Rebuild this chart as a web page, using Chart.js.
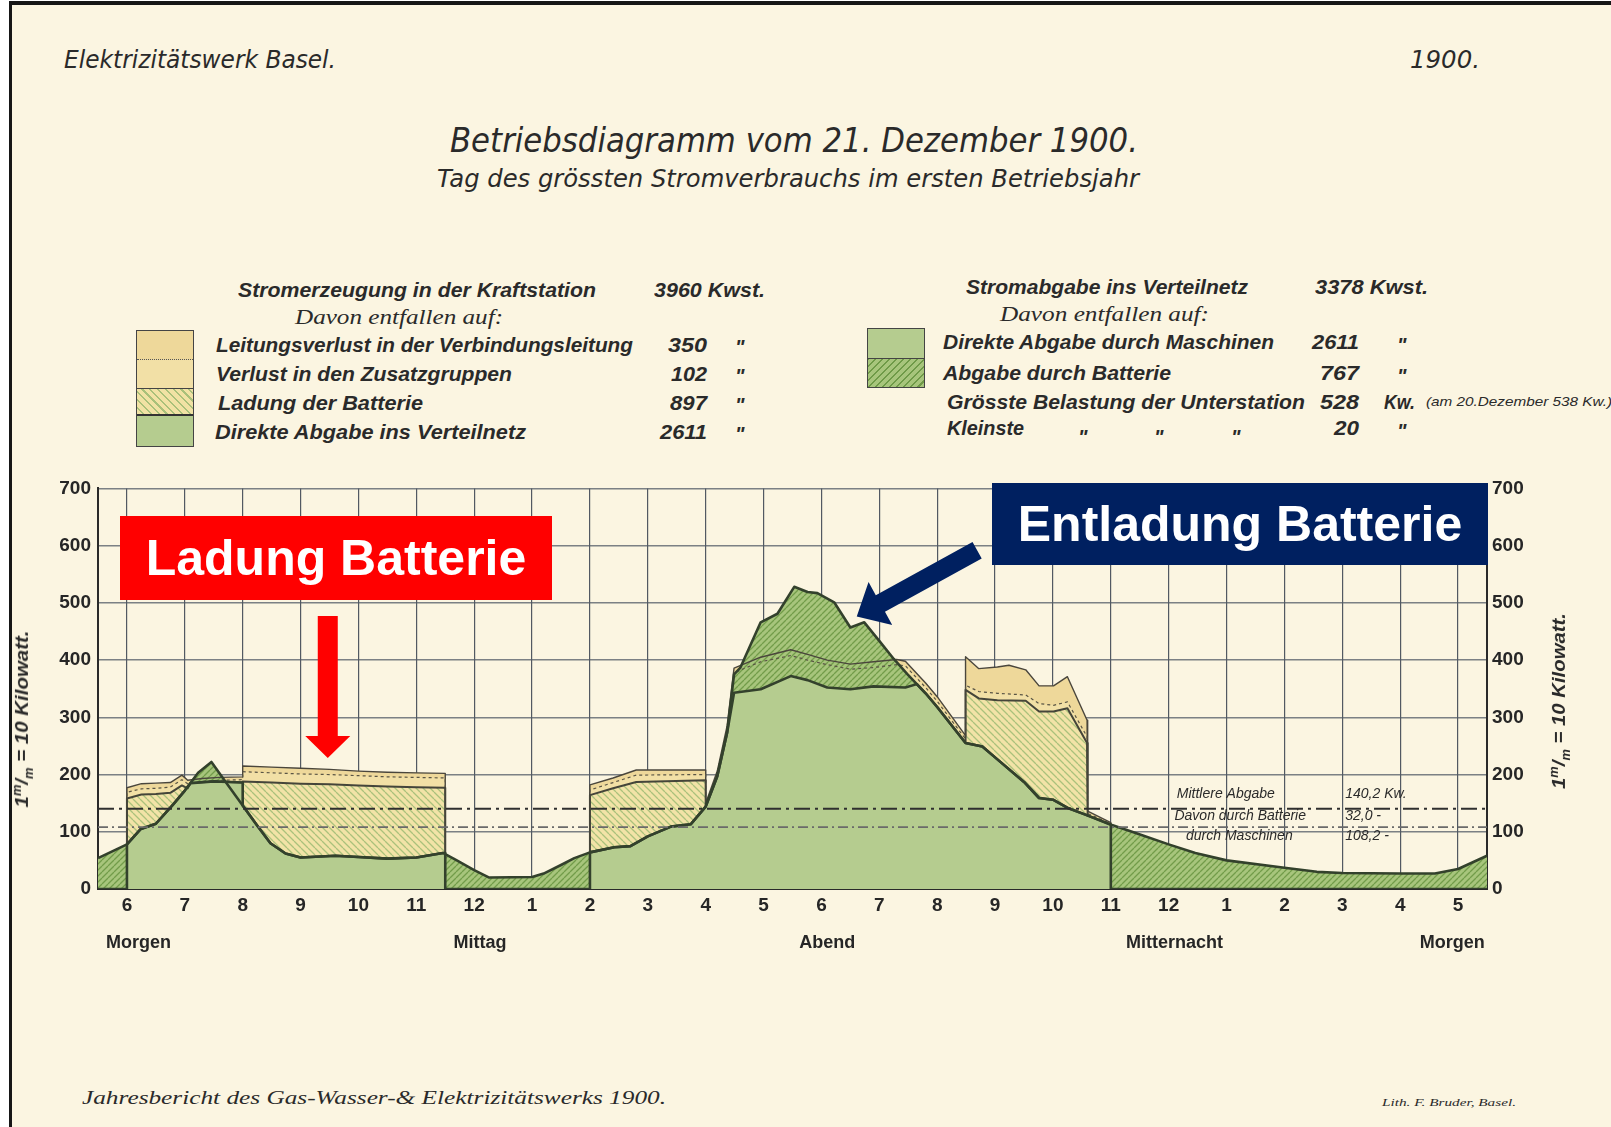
<!DOCTYPE html>
<html lang="de">
<head>
<meta charset="utf-8">
<title>Betriebsdiagramm vom 21. Dezember 1900</title>
<script src="https://cdn.jsdelivr.net/npm/chart.js@4.4.1/dist/chart.umd.min.js"></script>
<style>
  html, body { margin: 0; padding: 0; }
  body { width: 1611px; height: 1127px; position: relative; overflow: hidden; background: #fff;
         font-family: "Liberation Sans", Arial, sans-serif; color: #2a2a2a; }
  #paper { position: absolute; left: 9px; top: 1px; right: 0; bottom: 0; background: #fbf5e1;
           border-left: 3px solid #161616; border-top: 4px solid #161616; }
  .t { position: absolute; white-space: nowrap; line-height: 1; transform-origin: 0 0; }
  .head { font-family: "DejaVu Sans", sans-serif; font-style: oblique; }
  .leg { font-weight: bold; font-style: italic; font-size: 20px; }
  .serif { font-family: "Liberation Serif", "DejaVu Serif", serif; font-style: italic; }
  .ytitle { position: absolute; white-space: nowrap; line-height: 1; font-weight: bold; font-style: italic; font-size: 19px; }
  .ytitle sup, .ytitle sub { font-size: 12px; }
  #chartBox { position: absolute; left: 0; top: 470px; width: 1611px; height: 500px; }
  .legbox { position: absolute; box-sizing: border-box; border: 1.5px solid #444; display: flex; flex-direction: column; }
  .legbox div { box-sizing: border-box; }
  .ann { position: absolute; display: flex; align-items: center; justify-content: center;
         color: #fff; font-weight: bold; font-size: 50px; line-height: 1; white-space: nowrap; }
</style>
</head>
<body>
<div id="paper"></div>

<!-- Kopf -->
<div class="t head" style="font-size:25px" data-x="64" data-c="59" data-w="272">Elektrizitätswerk Basel.</div>
<div class="t head" style="font-size:25px" data-x="1410" data-c="59" data-w="70">1900.</div>
<div class="t head" style="font-size:34px" data-x="450" data-c="140" data-w="688">Betriebsdiagramm vom 21. Dezember 1900.</div>
<div class="t head" style="font-size:24px" data-x="437" data-c="179" data-w="702">Tag des grössten Stromverbrauchs im ersten Betriebsjahr</div>

<!-- Legende links -->
<div class="t leg" data-x="238" data-c="290" data-w="358">Stromerzeugung in der Kraftstation</div>
<div class="t leg" data-x="654" data-c="290" data-w="111">3960 Kwst.</div>
<div class="t serif" style="font-size:21px" data-x="295" data-c="317" data-w="208">Davon entfallen auf:</div>
<div class="t leg" data-x="216" data-c="345" data-w="417">Leitungsverlust in der Verbindungsleitung</div>
<div class="t leg" data-r="707" data-c="345" data-w="39">350</div>
<div class="t leg" data-x="735" data-c="347">"</div>
<div class="t leg" data-x="216" data-c="374" data-w="296">Verlust in den Zusatzgruppen</div>
<div class="t leg" data-r="707" data-c="374" data-w="36">102</div>
<div class="t leg" data-x="735" data-c="376">"</div>
<div class="t leg" data-x="218" data-c="403" data-w="205">Ladung der Batterie</div>
<div class="t leg" data-r="707" data-c="403" data-w="37">897</div>
<div class="t leg" data-x="735" data-c="405">"</div>
<div class="t leg" data-x="215" data-c="432" data-w="311">Direkte Abgabe ins Verteilnetz</div>
<div class="t leg" data-r="707" data-c="432" data-w="47">2611</div>
<div class="t leg" data-x="735" data-c="434">"</div>

<div class="legbox" style="left:136px; top:330px; width:58px; height:117px;">
  <div style="height:29px; background:#eed89a; border-bottom:1.5px dotted #555;"></div>
  <div style="height:29px; background:#f2e0a6; border-bottom:1.5px solid #444;"></div>
  <div style="height:27px; background:repeating-linear-gradient(45deg, #f1e2a4 0 4px, #a9c07a 4px 5.5px); border-bottom:2.5px solid #333;"></div>
  <div style="flex:1; background:#b5cc8f;"></div>
</div>

<!-- Legende rechts -->
<div class="t leg" data-x="966" data-c="287" data-w="282">Stromabgabe ins Verteilnetz</div>
<div class="t leg" data-x="1315" data-c="287" data-w="113">3378 Kwst.</div>
<div class="t serif" style="font-size:21px" data-x="1000" data-c="314" data-w="209">Davon entfallen auf:</div>
<div class="t leg" data-x="943" data-c="342" data-w="331">Direkte Abgabe durch Maschinen</div>
<div class="t leg" data-r="1359" data-c="342" data-w="47">2611</div>
<div class="t leg" data-x="1397" data-c="345">"</div>
<div class="t leg" data-x="943" data-c="373" data-w="228">Abgabe durch Batterie</div>
<div class="t leg" data-r="1359" data-c="373" data-w="39">767</div>
<div class="t leg" data-x="1397" data-c="376">"</div>
<div class="t leg" data-x="947" data-c="402" data-w="358">Grösste Belastung der Unterstation</div>
<div class="t leg" data-r="1359" data-c="402" data-w="39">528</div>
<div class="t leg" data-x="1384" data-c="402" data-w="31">Kw.</div>
<div class="t leg" style="font-size:13px; font-weight:normal" data-x="1426" data-c="401" data-w="186">(am 20.Dezember 538 Kw.)</div>
<div class="t leg" data-x="947" data-c="428" data-w="77">Kleinste</div>
<div class="t leg" data-x="1078" data-c="437">"</div>
<div class="t leg" data-x="1154" data-c="437">"</div>
<div class="t leg" data-x="1231" data-c="437">"</div>
<div class="t leg" data-r="1359" data-c="428" data-w="25">20</div>
<div class="t leg" data-x="1397" data-c="431">"</div>

<div class="legbox" style="left:867px; top:328px; width:58px; height:60px;">
  <div style="height:30px; background:#b5cc8f; border-bottom:1.5px solid #444;"></div>
  <div style="flex:1; background:repeating-linear-gradient(-45deg, #a7c57c 0 3.5px, #6f9a48 3.5px 5px);"></div>
</div>

<!-- Diagramm -->
<div id="chartBox"><canvas id="diagramm" width="1611" height="500"></canvas></div>

<div class="ytitle" data-cx="23" data-cy="719" data-len="177">1<sup>m</sup>/<sub>m</sub> = 10 Kilowatt.</div>
<div class="ytitle" data-cx="1560" data-cy="701" data-len="176">1<sup>m</sup>/<sub>m</sub> = 10 Kilowatt.</div>

<div class="ann" style="left:120px; top:516px; width:432px; height:84px; background:#ff0000;">Ladung Batterie</div>
<div class="ann" style="left:992px; top:483px; width:496px; height:82px; background:#002060;">Entladung Batterie</div>

<!-- Fuss -->
<div class="t serif" style="font-size:19px" data-x="82" data-c="1097" data-w="584">Jahresbericht des Gas-Wasser-&amp; Elektrizitätswerks 1900.</div>
<div class="t serif" style="font-size:10px" data-x="1382" data-c="1103" data-w="134">Lith. F. Bruder, Basel.</div>

<script>
// Stunden ab 5.30 Uhr morgens (5.5) bis 5.30 Uhr des Folgetages (29.5), Werte in kW
const hourTicks  = [6, 7, 8, 9, 10, 11, 12, 13, 14, 15, 16, 17, 18, 19, 20, 21, 22, 23, 24, 25, 26, 27, 28, 29];
const hourLabels = ['6', '7', '8', '9', '10', '11', '12', '1', '2', '3', '4', '5', '6', '7', '8', '9', '10', '11', '12', '1', '2', '3', '4', '5'];
const dayHours = [6.2, 12.1, 18.1, 24.1, 28.9];
const dayNames = ['Morgen', 'Mittag', 'Abend', 'Mitternacht', 'Morgen'];
const kwTicksMax = 700;

// Gesamtbelastung des Verteilnetzes (Maschinen + Batterie)
const loadKw = [[5.5,54],[6.0,78],[6.24,105],[6.5,114],[6.8,148],[7.0,172],[7.23,203],[7.46,222],[7.7,188],[8.0,146],
  [8.25,111],[8.48,80],[8.74,62],[9.0,55],[9.6,58],[10.0,56],[10.5,53],[11.0,55],[11.46,63],[11.7,50],[12.0,33],
  [12.26,20],[13.0,21],[13.2,27],[13.5,42],[13.73,54],[14.0,64],[14.42,73],[14.7,75],[15.0,92],[15.4,109],[15.74,113],
  [16.0,144],[16.2,197],[16.37,273],[16.49,375],[16.6,387],[16.95,466],[17.24,481],[17.53,528],[17.76,519],[17.93,517],
  [18.22,501],[18.5,457],[18.74,466],[19.02,431],[19.25,402],[19.48,376],[19.8,342],[20.0,318],[20.49,255],[20.78,249],
  [21.0,230],[21.5,187],[21.76,159],[22.0,156],[22.27,141],[22.56,130],[23.02,112],[23.43,98],[24.0,78],[24.46,63],
  [25.0,50],[26.0,37],[26.56,30],[27.0,28],[28.0,27],[28.6,27],[29.0,35],[29.5,58]];

// Direkte Abgabe durch Maschinen
const directKw = [[5.5,0],[6.0,0],[6.0,78],[6.24,105],[6.5,114],[6.8,148],[7.0,172],[7.1,185],[7.5,188],[8.0,186],
  [8.0,146],[8.25,111],[8.48,80],[8.74,62],[9.0,55],[9.6,58],[10.0,56],[10.5,53],[11.0,55],[11.46,63],[11.5,63],[11.5,0],
  [14.0,0],[14.0,64],[14.42,73],[14.7,75],[15.0,92],[15.4,109],[15.74,113],[16.0,144],[16.2,197],[16.37,273],[16.49,343],
  [16.95,349],[17.47,372],[17.76,365],[18.1,352],[18.5,349],[18.9,354],[19.45,352],[19.65,358],[19.8,342],[20.0,318],
  [20.49,255],[20.78,249],[21.0,230],[21.5,187],[21.76,159],[22.0,156],[22.27,141],[22.56,130],[23.0,112],[23.0,0],[29.5,0]];

// Oberkante Ladung der Batterie
const chargeKw = [[6.0,78],[6.0,158],[6.25,165],[6.5,166],[6.75,168],[6.95,181],[7.05,176],[7.1,185],[7.5,188],[8.0,186],
  [8.0,188],[8.5,186],[9.0,184],[9.5,183],[10.0,181],[10.5,179],[11.0,178],[11.5,177],[11.5,63],[12.5,null],
  [14.0,64],[14.0,164],[14.4,176],[14.8,187],[16.0,190],[16.0,144],[18.0,null],
  [20.49,255],[20.49,348],[20.72,333],[21.04,330],[21.53,329],[21.76,310],[22.01,310],[22.25,316],[22.59,255],[22.6,128]];

// Oberkante Verlust in den Zusatzgruppen
const zusatzKw = [[6.0,78],[6.0,169],[6.25,175],[6.5,176],[6.75,178],[6.95,191],[7.05,184],[7.3,188],[7.6,190],[8.0,191],
  [8.0,205],[8.5,203],[9.0,201],[9.5,200],[10.0,198],[10.5,196],[11.0,195],[11.5,194],[11.5,63],[12.5,null],
  [14.0,64],[14.0,173],[14.4,186],[14.8,199],[16.0,200],[16.0,148],[16.2,202],[16.37,279],[16.49,378],[16.95,397],
  [17.47,408],[17.76,400],[18.1,392],[18.5,384],[18.9,387],[19.3,392],[19.45,390],[19.8,352],[20.0,328],[20.49,262],
  [20.49,356],[20.72,345],[21.04,342],[21.53,339],[21.76,324],[22.01,321],[22.25,327],[22.59,266],[22.6,132],[23.0,114],[23.0,112]];

// Oberkante Leitungsverlust = gesamte Stromerzeugung
const genKw = [[6.0,78],[6.0,177],[6.25,184],[6.5,185],[6.75,186],[6.95,199],[7.05,190],[7.3,193],[7.6,195],[8.0,196],
  [8.0,215],[8.5,213],[9.0,211],[9.5,209],[10.0,206],[10.5,204],[11.0,203],[11.5,202],[11.5,63],[12.5,null],
  [14.0,64],[14.0,182],[14.4,194],[14.8,208],[16.0,208],[16.0,150],[16.2,206],[16.37,285],[16.49,386],[16.95,405],
  [17.47,418],[17.76,410],[18.1,400],[18.5,393],[18.9,397],[19.3,401],[19.45,398],[19.8,360],[20.0,336],[20.49,268],
  [20.49,406],[20.72,385],[21.04,388],[21.24,391],[21.53,383],[21.76,355],[22.01,355],[22.25,371],[22.59,295],[22.6,136],
  [23.0,116],[23.0,112]];

// Mittelwerte
const meanKw = [140.2, 108.2];
const meanNames  = ['Mittlere Abgabe', 'Davon durch Batterie', 'durch Maschinen'];
const meanValues = ['140,2 Kw.', '32,0 -', '108,2 -'];

const HOUR_MIN = 5.5, HOUR_MAX = 29.5;
const toPoints = arr => arr.map(p => ({ x: p[0], y: p[1] }));

function hatch(bg, fg, slash, size, lw) {
    const c = document.createElement('canvas');
    c.width = c.height = size;
    const g = c.getContext('2d');
    g.fillStyle = bg;
    g.fillRect(0, 0, size, size);
    g.strokeStyle = fg;
    g.lineWidth = lw;
    g.beginPath();
    for (const k of [-size, 0, size]) {
        if (slash) { g.moveTo(k, size); g.lineTo(k + size, 0); }
        else { g.moveTo(k, 0); g.lineTo(k + size, size); }
    }
    g.stroke();
    return g.createPattern(c, 'repeat');
}

function drawArrow(g, x1, y1, x2, y2, shaftW, headW, headL, color) {
    const dx = x2 - x1, dy = y2 - y1, len = Math.hypot(dx, dy);
    const ux = dx / len, uy = dy / len, px = -uy, py = ux;
    const bx = x2 - ux * headL, by = y2 - uy * headL;
    g.beginPath();
    g.moveTo(x1 + px * shaftW / 2, y1 + py * shaftW / 2);
    g.lineTo(bx + px * shaftW / 2, by + py * shaftW / 2);
    g.lineTo(bx + px * headW / 2, by + py * headW / 2);
    g.lineTo(x2, y2);
    g.lineTo(bx - px * headW / 2, by - py * headW / 2);
    g.lineTo(bx - px * shaftW / 2, by - py * shaftW / 2);
    g.lineTo(x1 - px * shaftW / 2, y1 - py * shaftW / 2);
    g.closePath();
    g.fillStyle = color;
    g.fill();
}

// Beschriftung der Mittelwert-Linien
const meanText = {
    id: 'meanText',
    afterDatasetsDraw(chart) {
        const g = chart.ctx, x = chart.scales.x, y = chart.scales.y;
        const rows = [166, 128, 93];
        const lefts = [24.14, 24.1, 24.3];
        g.save();
        g.fillStyle = '#2a2a2a';
        g.font = 'italic 14px "Liberation Sans", Arial, sans-serif';
        g.textBaseline = 'middle';
        meanNames.forEach((name, i) => {
            g.fillText(name, x.getPixelForValue(lefts[i]), y.getPixelForValue(rows[i]));
            g.fillText(meanValues[i], x.getPixelForValue(27.05), y.getPixelForValue(rows[i]));
        });
        g.restore();
    }
};

// Pfeile der Hervorhebungen
const arrows = {
    id: 'arrows',
    afterDraw(chart) {
        const g = chart.ctx, x = chart.scales.x, y = chart.scales.y;
        g.save();
        drawArrow(g, x.getPixelForValue(9.47), y.getPixelForValue(477), x.getPixelForValue(9.47), y.getPixelForValue(229), 20, 45, 22, '#ff0000');
        drawArrow(g, x.getPixelForValue(20.69), y.getPixelForValue(592), x.getPixelForValue(18.61), y.getPixelForValue(476), 19, 49, 27, '#002060');
        g.restore();
    }
};

const lightGreen  = '#b5cc8f';
const greenHatch  = hatch('#a7c57c', '#729c4a', true, 6, 1.3);
const yellowHatch = hatch('#f2e3a7', '#aac17c', false, 7, 1.3);
const lineDark = '#33412c';

Chart.defaults.font.family = '"Liberation Sans", Arial, sans-serif';
Chart.defaults.color = '#262626';

const tickFont = { size: 19, weight: 'bold' };

new Chart(document.getElementById('diagramm'), {
    type: 'line',
    data: {
        datasets: [
            { label: 'Mittlere Abgabe', data: toPoints([[HOUR_MIN, meanKw[0]], [HOUR_MAX, meanKw[0]]]),
              borderColor: '#2f2f2f', borderWidth: 2.2, borderDash: [16, 5, 3, 5], fill: false },
            { label: 'durch Maschinen', data: toPoints([[HOUR_MIN, meanKw[1]], [HOUR_MAX, meanKw[1]]]),
              borderColor: '#6a6a6a', borderWidth: 1.6, borderDash: [10, 4, 2, 4], fill: false },
            { label: 'Direkte Abgabe durch Maschinen', data: toPoints(directKw),
              borderColor: lineDark, borderWidth: 2.6, backgroundColor: lightGreen, fill: 'origin' },
            { label: 'Abgabe durch Batterie', data: toPoints(loadKw),
              borderColor: lineDark, borderWidth: 2.6, backgroundColor: greenHatch, fill: 'origin' },
            { label: 'Ladung der Batterie', data: toPoints(chargeKw),
              borderColor: '#45453a', borderWidth: 2, backgroundColor: yellowHatch, fill: 'origin' },
            { label: 'Verlust in den Zusatzgruppen', data: toPoints(zusatzKw),
              borderColor: '#5a5545', borderWidth: 1.2, borderDash: [3, 3], backgroundColor: '#f2e0a6', fill: 'origin' },
            { label: 'Leitungsverlust in der Verbindungsleitung', data: toPoints(genKw),
              borderColor: '#4a463c', borderWidth: 1.4, backgroundColor: '#eed89a', fill: 'origin' }
        ]
    },
    options: {
        responsive: false,
        animation: false,
        events: [],
        layout: { padding: { top: 18, left: 0, right: 0, bottom: 0 } },
        elements: { point: { radius: 0 }, line: { tension: 0, borderJoinStyle: 'round' } },
        plugins: {
            legend: { display: false },
            tooltip: { enabled: false },
            filler: { drawTime: 'beforeDatasetsDraw' }
        },
        scales: {
            x: {
                type: 'linear', position: 'bottom', min: HOUR_MIN, max: HOUR_MAX, z: 1, weight: 0,
                afterBuildTicks: s => { s.ticks = hourTicks.map(v => ({ value: v })); },
                afterFit: s => { s.height = 36; },
                ticks: { callback: v => hourLabels[hourTicks.indexOf(v)], font: tickFont, padding: 5,
                         autoSkip: false, maxRotation: 0 },
                grid: { color: 'rgba(40,50,66,0.8)', lineWidth: 1.2, drawTicks: false },
                border: { color: '#2a2a2a', width: 2 }
            },
            x2: {
                type: 'linear', position: 'bottom', min: HOUR_MIN, max: HOUR_MAX, weight: 1,
                afterBuildTicks: s => { s.ticks = dayHours.map(v => ({ value: v })); },
                afterFit: s => { s.height = 45; },
                ticks: { callback: v => dayNames[dayHours.indexOf(v)], font: { size: 18, weight: 'bold' },
                         padding: 7, autoSkip: false, maxRotation: 0 },
                grid: { display: false, drawTicks: false },
                border: { display: false }
            },
            y: {
                position: 'left', min: 0, max: kwTicksMax, z: 1,
                afterFit: s => { s.width = 98; },
                ticks: { stepSize: 100, font: tickFont, padding: 7 },
                grid: { color: 'rgba(80,88,100,0.75)', lineWidth: 1.6, drawTicks: false },
                border: { color: '#2a2a2a', width: 2 }
            },
            y2: {
                position: 'right', min: 0, max: kwTicksMax, z: 1,
                afterFit: s => { s.width = 124; },
                ticks: { stepSize: 100, font: tickFont, padding: 5 },
                grid: { drawOnChartArea: false, drawTicks: false },
                border: { color: '#2a2a2a', width: 2 }
            }
        }
    },
    plugins: [meanText, arrows]
});

// Texte auf Position und Breite der Vorlage bringen
function placeTexts() {
    document.querySelectorAll('.t').forEach(el => {
        const size = parseFloat(getComputedStyle(el).fontSize);
        const natural = el.getBoundingClientRect().width;
        const w = el.dataset.w ? +el.dataset.w : natural;
        const left = el.dataset.r ? +el.dataset.r - w : +el.dataset.x;
        el.style.left = left + 'px';
        el.style.top = (+el.dataset.c - 0.49 * size) + 'px';
        el.style.transform = 'scaleX(' + (w / natural) + ')';
    });
    document.querySelectorAll('.ytitle').forEach(el => {
        const k = +el.dataset.len / el.getBoundingClientRect().width;
        el.style.left = el.dataset.cx + 'px';
        el.style.top = el.dataset.cy + 'px';
        el.style.transform = 'translate(-50%,-50%) rotate(-90deg) scaleX(' + k + ')';
    });
}
placeTexts();
</script>
</body>
</html>
